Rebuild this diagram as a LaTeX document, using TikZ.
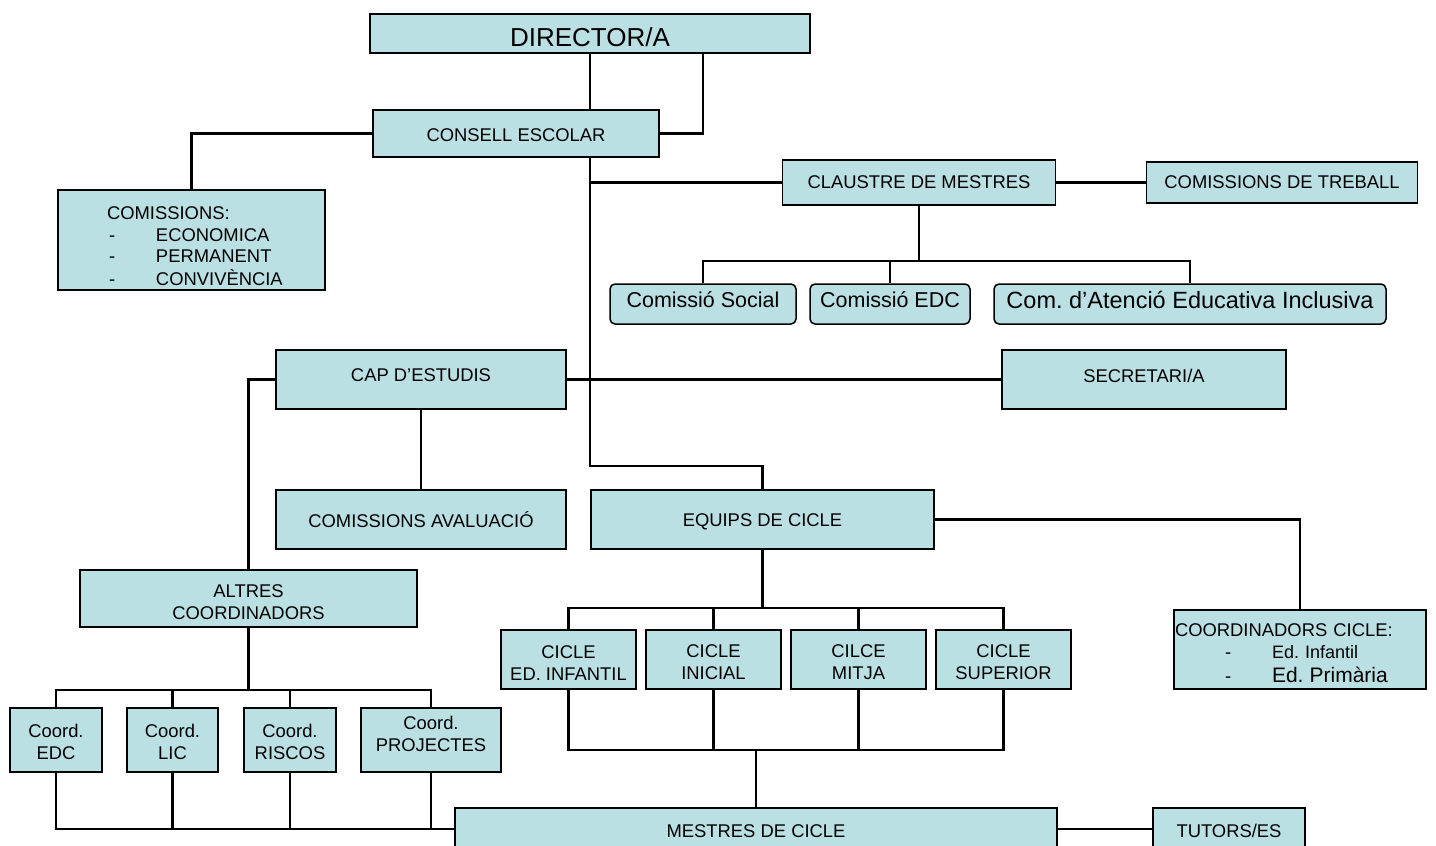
\documentclass[tikz,border=0pt]{standalone}
\usepackage{fontspec}
\setmainfont{Liberation Sans}
\usetikzlibrary{positioning}
\definecolor{boxblue}{RGB}{186,224,227}
\tikzstyle{link} = [draw, line width=2.2pt]
\tikzstyle{every unit} = [draw, line width=1.5pt, fill=boxblue, inner sep=0pt, align=center, font=\fontsize{18.4}{22}\selectfont]
\tikzstyle{unit} = [rectangle, every unit]
\tikzstyle{team} = [rectangle, rounded corners=5pt, every unit, font=\fontsize{21.5}{25}\selectfont, execute at end node={\rule[-8pt]{0pt}{8pt}}]
\begin{document}
\frenchspacing
\begin{tikzpicture} [x=1pt, y=-1pt, node distance=8.5pt, every edge/.style={link}]

\useasboundingbox (0,0) rectangle (1436,846);
\clip (0,0) rectangle (1436,846);

% Direction

\node[unit, minimum width=440pt, minimum height=39pt, font=\fontsize{26}{30}\selectfont] (director) at (590,33.5) {\rule{0pt}{27pt}DIRECTOR/A};

\node[unit, minimum width=286pt, minimum height=47pt] (consell) at (516,133.5) {\rule{0pt}{17pt}CONSELL ESCOLAR};

\node[unit, minimum width=267pt, minimum height=100pt, text width=169pt, align=left] (comissions) at (191.5,240) {\rule{0pt}{25pt}COMISSIONS:\\\makebox[49pt][l]{\hspace*{2pt}-}ECONOMICA\\[-1pt]\makebox[49pt][l]{\hspace*{2pt}-}PERMANENT\\[1pt]\makebox[49pt][l]{\hspace*{2pt}-}CONVIVÈNCIA};

% Claustre

\node[unit, minimum width=273pt, minimum height=45pt] (claustre) at (919,182.5) {CLAUSTRE DE MESTRES};

\node[unit, minimum width=271pt, minimum height=41pt] (treball) [right=89.5pt of claustre] {COMISSIONS DE TREBALL} edge (claustre);

\coordinate (cbus) at (919,261);

\node[team, minimum width=186pt, minimum height=40pt] (social) at (703,304) {Comissió Social};

\node[team, minimum width=160pt, minimum height=40pt] (comedc) at (890,304) {Comissió EDC};

\node[team, minimum width=392pt, minimum height=40pt, font=\fontsize{23.5}{27}\selectfont] (atencio) at (1190,304) {Com. d’Atenció Educativa Inclusiva};

% Cap d'estudis and secretari

\node[unit, minimum width=290pt, minimum height=59pt] (cap) at (421,379.5) {CAP D’ESTUDIS\rule[-8pt]{0pt}{8pt}};

\node[unit, minimum width=284pt, minimum height=59pt] (secretari) at (1144,379.5) {SECRETARI/A\rule[-8pt]{0pt}{8pt}} edge (cap);

\node[unit, minimum width=290pt, minimum height=59pt] (avaluacio) at (421,519.5) {COMISSIONS AVALUACIÓ} edge (cap);

\node[unit, minimum width=337pt, minimum height=57pt] (altres) at (248.5,598.5) {\rule{0pt}{21pt}ALTRES\\COORDINADORS};

% Cicles

\coordinate (bend) at (590,466);

\node[unit, minimum width=343pt, minimum height=59pt] (equips) at (762.5,519.5) {\rule{0pt}{17pt}EQUIPS DE CICLE};

\node[unit, minimum width=252pt, minimum height=79pt, text width=250pt, align=left] (coordcicle) at (1300,649.5) {\rule{0pt}{21pt}COORDINADORS CICLE:\\\hspace*{50pt}\makebox[47pt][l]{-}{\fontsize{18}{22}\selectfont Ed. Infantil}\\[2pt]\hspace*{50pt}\makebox[47pt][l]{-}{\fontsize{21}{24}\selectfont Ed. Primària}};

\coordinate (ebus) at (762.5,608);

\node[unit, minimum width=135pt, minimum height=59pt] (infantil) at (568.5,659.5) {\rule{0pt}{19pt}CICLE\\ED. INFANTIL};
\node[unit, minimum width=135pt, minimum height=59pt] (inicial) [right=of infantil] {\rule{0pt}{19pt}CICLE\\INICIAL};
\node[unit, minimum width=135pt, minimum height=59pt] (mitja) [right=of inicial] {\rule{0pt}{19pt}CILCE\\MITJA};
\node[unit, minimum width=135pt, minimum height=59pt] (superior) [right=of mitja] {\rule{0pt}{19pt}CICLE\\SUPERIOR};

\coordinate (mbus) at (756,750);

% Coordinadors

\coordinate (abus) at (248.5,690);

\node[unit, minimum width=92pt, minimum height=64pt] (cedc) at (56,740) {\rule{0pt}{17pt}Coord.\\EDC};
\node[unit, minimum width=91pt, minimum height=64pt] (clic) [right=23.5pt of cedc] {\rule{0pt}{17pt}Coord.\\LIC};
\node[unit, minimum width=92pt, minimum height=64pt] (criscos) [right=24.5pt of clic] {\rule{0pt}{17pt}Coord.\\RISCOS};
\node[unit, minimum width=140pt, minimum height=64pt] (cproj) [right=23.5pt of criscos] {Coord.\\PROJECTES\rule[-13pt]{0pt}{13pt}};

% Mestres

\node[unit, minimum width=602pt, minimum height=42pt] (mestres) at (756,829) {\rule{0pt}{17pt}MESTRES DE CICLE};

\node[unit, minimum width=152pt, minimum height=42pt] (tutors) [right=94.5pt of mestres] {\rule{0pt}{17pt}TUTORS/ES} edge (mestres);

% Links

\draw[link] (director.south) -- (consell.north -| director.south);
\draw[link] ([xshift=113pt]director.south) |- (consell.east);
\draw[link] (consell.west) -| (comissions.north);
\draw[link] (consell.south -| director.south) -- (bend) -| (equips.north);
\draw[link] (claustre.west) -- (claustre.west -| director.south);

\draw[link] (claustre.south) -- (cbus);
\draw[link] (social.north) |- (cbus) -| (atencio.north);
\draw[link] (comedc.north) -- (comedc.north |- cbus);

\draw[link] (cap.west) -| (altres.north);
\draw[link] (equips.east) -| (coordcicle.north);

\draw[link] (equips.south) -- (ebus);
\draw[link] (infantil.north) |- (ebus) -| (superior.north);
\draw[link] (inicial.north) -- (inicial.north |- ebus);
\draw[link] (mitja.north) -- (mitja.north |- ebus);

\draw[link] (infantil.south) |- (mbus) -| (superior.south);
\draw[link] (inicial.south) -- (inicial.south |- mbus);
\draw[link] (mitja.south) -- (mitja.south |- mbus);
\draw[link] (mbus) -- (mestres.north);

\draw[link] (altres.south) -- (abus);
\draw[link] (cedc.north) |- (abus) -| (cproj.north);
\draw[link] (clic.north) -- (clic.north |- abus);
\draw[link] (criscos.north) -- (criscos.north |- abus);

\draw[link] (cedc.south) |- (mestres.west);
\draw[link] (clic.south) -- (clic.south |- mestres.west);
\draw[link] (criscos.south) -- (criscos.south |- mestres.west);
\draw[link] (cproj.south) -- (cproj.south |- mestres.west);

\end{tikzpicture}
\end{document}
